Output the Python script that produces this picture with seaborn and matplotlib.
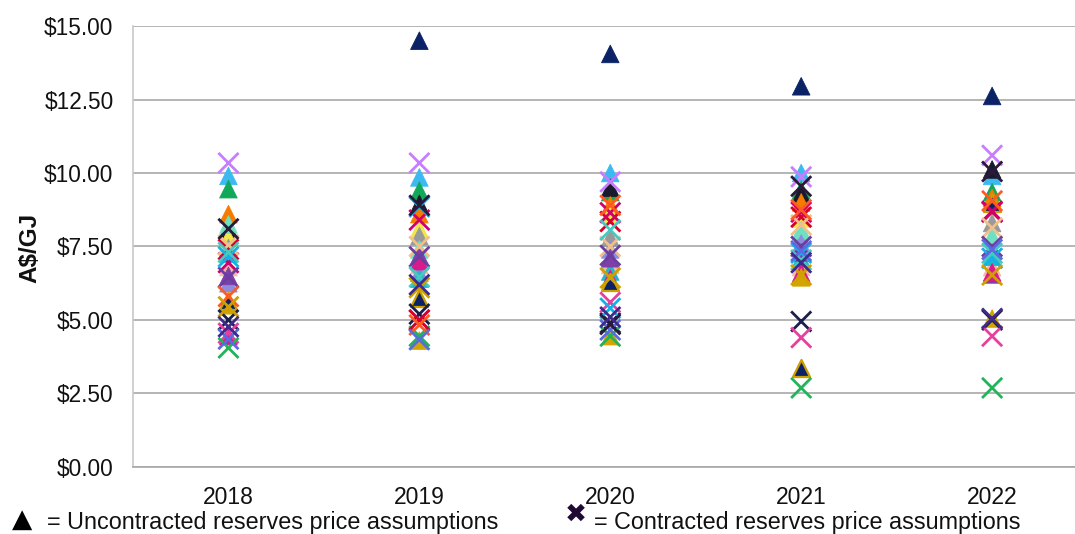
import numpy as np
import pandas as pd
import matplotlib
matplotlib.use("Agg")
import matplotlib.pyplot as plt
from matplotlib.ticker import FixedLocator, FuncFormatter
import seaborn as sns

nan = np.nan
years = ["2018", "2019", "2020", "2021", "2022"]
y_ticks = [0, 2.5, 5, 7.5, 10, 12.5, 15]

# Uncontracted reserves price assumptions (triangles), A$/GJ
u_navy = [nan, 14.50, 14.05, 12.95, 12.62]
u_skyblue = [9.90, 9.85, 10.00, 10.00, 9.90]
u_green = [9.45, 9.40, 9.35, 9.42, 9.35]
u_black = [8.10, 8.95, 9.50, 9.30, 10.12]
u_orange = [8.60, 8.60, 8.90, 9.00, 9.15]
u_yellow = [7.80, 8.10, 8.62, 8.45, 8.95]
u_gray = [7.45, 7.85, 7.80, 7.80, 8.30]
u_mint = [8.25, 7.40, 7.00, 8.05, 7.85]
u_peach = [6.80, 6.87, 6.87, 6.80, 6.80]
u_periwinkle = [6.25, 6.60, 7.40, 7.60, 7.30]
u_teal = [7.25, 6.40, 6.65, 7.10, 7.15]
u_purple = [6.50, 7.20, 7.10, 7.30, 6.55]
u_magenta = [4.45, 7.00, 6.40, 6.60, 6.62]
u_gold = [5.50, 4.30, 4.45, 6.45, 5.05]
u_navygold = [5.65, 5.75, 6.30, 3.37, 8.97]

tri_series = {
    "u_navy": (u_navy, "#0B2366"),
    "u_skyblue": (u_skyblue, "#3DB9F2"),
    "u_green": (u_green, "#12A85A"),
    "u_black": (u_black, "#1A1A2E"),
    "u_orange": (u_orange, "#F57C00"),
    "u_yellow": (u_yellow, "#F3E64A"),
    "u_gray": (u_gray, "#9A9A9A"),
    "u_mint": (u_mint, "#6FE0C2"),
    "u_peach": (u_peach, "#F6B8A2"),
    "u_periwinkle": (u_periwinkle, "#8C8CE0"),
    "u_teal": (u_teal, "#26B5C8"),
    "u_purple": (u_purple, "#7E3FA8"),
    "u_magenta": (u_magenta, "#D81B8C"),
    "u_gold": (u_gold, "#D4A400"),
}

# Contracted reserves price assumptions (crosses), A$/GJ
c_violet = [10.34, 10.34, 9.70, 9.87, 10.60]
c_navy = [5.00, 5.20, 4.90, 4.95, 5.00]
c_pink = [4.55, 5.00, 5.60, 4.40, 4.45]
c_green = [4.05, 4.45, 4.45, 2.69, 2.69]
c_red = [7.40, 5.00, 8.35, 8.50, 8.67]
c_magenta = [6.95, 8.40, 8.65, 8.67, 8.70]
c_tan = [7.55, 7.50, 7.50, 8.23, 8.13]
c_purple = [6.45, 7.15, 7.20, 7.50, 7.50]
c_orange = [5.80, 4.83, 8.90, 8.75, 9.05]
c_cyan = [7.15, 8.85, 5.40, 7.28, 7.10]
c_teal = [7.30, 6.46, 8.06, 7.04, 7.27]
c_gold = [5.45, 6.10, 6.43, 6.53, 6.53]
c_blue = [4.35, 4.33, 4.66, 7.35, 7.40]
c_dark = [8.10, 8.90, 4.85, 9.55, 10.05]
c_indigo = [4.77, 6.20, 5.10, 6.95, 5.05]

x_series = {
    "c_violet": (c_violet, "#C77DFF"),
    "c_navy": (c_navy, "#1B1F4B"),
    "c_pink": (c_pink, "#E6409E"),
    "c_green": (c_green, "#22B45A"),
    "c_red": (c_red, "#D6002A"),
    "c_magenta": (c_magenta, "#D0006F"),
    "c_tan": (c_tan, "#F0C08C"),
    "c_purple": (c_purple, "#6A3FA0"),
    "c_orange": (c_orange, "#FF5A1F"),
    "c_cyan": (c_cyan, "#10B2E8"),
    "c_teal": (c_teal, "#45C9C0"),
    "c_gold": (c_gold, "#D0A000"),
    "c_blue": (c_blue, "#5A6AE0"),
    "c_dark": (c_dark, "#2A1A3A"),
    "c_indigo": (c_indigo, "#3E2A8C"),
}


def long_df(series):
    rows = []
    for name, (vals, _) in series.items():
        for yr, v in zip(years, vals):
            if not np.isnan(v):
                rows.append({"year": yr, "price": v, "series": name})
    return pd.DataFrame(rows)


tri_df = long_df(tri_series)
x_df = long_df(x_series)
ng_df = pd.DataFrame({"year": years, "price": u_navygold, "series": "u_navygold"}).dropna()

sns.set_style("white")
plt.rcParams["font.family"] = ["Liberation Sans", "DejaVu Sans"]

fig = plt.figure(figsize=(10.75, 5.34), dpi=100)
ax = fig.add_axes([0.1237, 0.1255, 0.888, 0.8258])

ax.plot(years, [nan] * 5, alpha=0)  # establish category order

sns.scatterplot(data=tri_df, x="year", y="price", hue="series",
                palette={k: v[1] for k, v in tri_series.items()},
                marker="^", s=160, edgecolor="face", linewidth=0.6,
                legend=False, ax=ax, zorder=3)
sns.scatterplot(data=ng_df, x="year", y="price", color="#0B2366",
                marker="^", s=150, edgecolor="#C9A000", linewidth=1.6,
                legend=False, ax=ax, zorder=3)
sns.scatterplot(data=x_df, x="year", y="price", hue="series",
                palette={k: v[1] for k, v in x_series.items()},
                marker="x", s=210, linewidth=2.0,
                legend=False, ax=ax, zorder=4)

ax.set_xlim(-0.5, 4.5)
ax.set_ylim(0, 15)
ax.yaxis.set_major_locator(FixedLocator(y_ticks))
ax.yaxis.set_major_formatter(FuncFormatter(lambda v, p: f"${v:,.2f}"))
ax.yaxis.grid(True, color="#A8A8A8", linewidth=1.2)
ax.xaxis.grid(False)
ax.set_axisbelow(True)

for s in ["top", "right"]:
    ax.spines[s].set_visible(False)
ax.spines["left"].set_color("#C8C8C8")
ax.spines["left"].set_linewidth(1.2)
ax.spines["bottom"].set_color("#A8A8A8")
ax.spines["bottom"].set_linewidth(1.2)

ax.tick_params(axis="y", length=0, pad=14, labelsize=16.3, labelcolor="#111111")
ax.tick_params(axis="x", which="major", length=0, pad=14, labelsize=16.5, labelcolor="#111111")
ax.xaxis.set_minor_locator(FixedLocator([0.5, 1.5, 2.5, 3.5]))
ax.tick_params(axis="x", which="minor", direction="in", length=5, width=1.2, color="#A8A8A8")

ax.set_xlabel("")
ax.set_ylabel("")
fig.text(30 / 1075, 1 - 247.5 / 534, "A$/GJ", rotation=90, ha="center", va="center",
         fontsize=17.5, fontweight="bold", color="#111111")

fig.text(12 / 1075, 0.026, "▲", fontsize=19, ha="left", va="center", color="#000000",
         family=["DejaVu Sans"])
fig.text(47 / 1075, 0.022, "= Uncontracted reserves price assumptions", fontsize=16.8,
         ha="left", va="center", color="#111111")
fig.text(565 / 1075, 0.036, "✖", fontsize=19, ha="left", va="center", color="#1F0A33",
         family=["DejaVu Sans"])
fig.text(594 / 1075, 0.022, "= Contracted reserves price assumptions", fontsize=16.8,
         ha="left", va="center", color="#111111")

fig.savefig("out.png", dpi=100)
